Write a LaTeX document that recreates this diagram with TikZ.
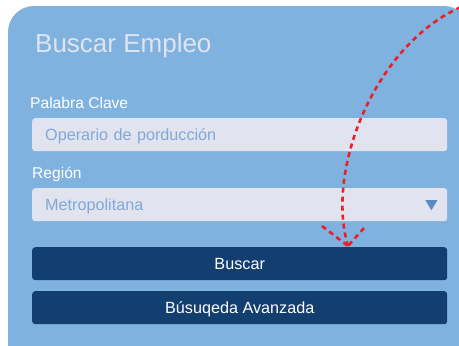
\documentclass[tikz,border=0pt]{standalone}
\usepackage{fontspec}
\setmainfont{Liberation Sans}
\usetikzlibrary{positioning}

\definecolor{panelblue}{HTML}{80B2E0}
\definecolor{fieldgray}{HTML}{E1E3EF}
\definecolor{hintblue}{HTML}{80A9D9}
\definecolor{darkblue}{HTML}{123E70}
\definecolor{arrowred}{HTML}{E8202A}
\definecolor{caretblue}{HTML}{5B8BC4}

\begin{document}
\begin{tikzpicture}[x=1pt,y=-1pt,
    field/.style={fill=fieldgray,rounded corners=3pt,anchor=north west,
      text width=389pt,inner xsep=13pt,minimum height=33pt,align=left,
      text height=15pt,text depth=3pt,
      text=hintblue,font=\fontsize{16.2}{19}\selectfont},
    button/.style={fill=darkblue,rounded corners=3pt,anchor=north west,
      minimum width=415pt,minimum height=33pt,text=white,
      text height=15pt,text depth=3pt,
      font=\fontsize{16.2}{19}\selectfont},
    field label/.style={anchor=base west,inner sep=0pt,text=white,
      font=\fontsize{15.6}{18}\selectfont},
    red dash/.style={arrowred,line width=2.6pt,dash pattern=on 5pt off 4pt}]
\useasboundingbox (0,0) rectangle (459,346);
\clip (0,0) rectangle (459,346);
\fill[white] (0,0) rectangle (459,346);

% panel
\fill[panelblue,rounded corners=26pt] (8,6) rectangle (470,370);

\node[anchor=base west,inner sep=0pt,text=fieldgray,
  font=\fontsize{26}{30}\selectfont] (title) at (35,52) {Buscar Empleo};

\node[field label] (kwlabel) at (30,108) {Palabra Clave};
\node[field] (kw) at (32,118) {Operario de porducción};

\node[field label] (reglabel) at (32,178) {Región};
\node[field] (reg) at (32,188) {Metropolitana};
\fill[caretblue] ([xshift=-22pt,yshift=4.5pt]reg.east) -- ++(12,0) -- ++(-6,10) -- cycle;

\node[button] (search) at (32,247) {Buscar};
\node[button] (advanced) at (32,291) {Búsuqeda Avanzada};

% red dashed hint arrow
\coordinate (start) at (461,7);
\coordinate (tip) at (348,246);
\coordinate (barbleft) at (322,226);
\coordinate (barbright) at (364,228);
\draw[red dash] (start) .. controls (375,45) and (325,170) .. (tip);
\draw[red dash] (barbleft) -- (tip);
\draw[red dash] (barbright) -- (tip);
\end{tikzpicture}
\end{document}
